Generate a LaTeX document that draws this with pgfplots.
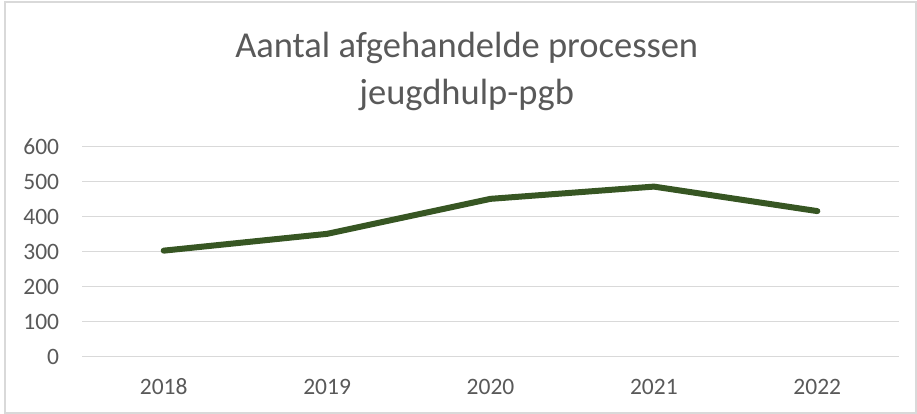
\documentclass[border=0pt]{standalone}
\usepackage{pgfplots}
\pgfplotsset{compat=1.18}
\usepackage{fontspec}
\setmainfont{Carlito}
\definecolor{txt}{HTML}{595959}
\definecolor{gridc}{HTML}{D9D9D9}
\definecolor{ln}{HTML}{375623}
\begin{document}
\begin{tikzpicture}
\path (0pt,0pt) rectangle (917pt,414pt);
\draw[draw=gridc, line width=1.5pt] (5pt,1pt) rectangle (916pt,412pt);
\begin{axis}[at={(82pt,57.3pt)}, anchor=south west, scale only axis, width=817pt, height=210pt,
  xmin=-0.5, xmax=4.5, ymin=0, ymax=600, ytick={0,100,...,600}, xtick={0,1,2,3,4},
  xticklabels={2018,2019,2020,2021,2022},
  axis line style={draw=none}, major tick length=0pt, ymajorgrids,
  grid style={gridc, line width=1.5pt},
  tick label style={font=\fontsize{23.5}{28}\selectfont, text=txt, inner sep=0pt},
  /pgf/number format/assume math mode=true,
  yticklabel style={anchor=base east, xshift=-22.7pt, yshift=-8.3pt},
  xticklabel style={anchor=base, yshift=-38.3pt}, clip=false]
\addplot[ln, line width=6pt, line join=round, line cap=round] coordinates {(0,303)(1,351)(2,451)(3,486)(4,416)};
\end{axis}
\node[text=txt, font=\fontsize{36.5}{44}\selectfont, anchor=base, inner sep=0pt] at (466.7pt, 356.3pt) {Aantal afgehandelde processen};
\node[text=txt, font=\fontsize{36.5}{44}\selectfont, anchor=base, inner sep=0pt] at (466.7pt, 309pt) {jeugdhulp-pgb};
\end{tikzpicture}
\end{document}
